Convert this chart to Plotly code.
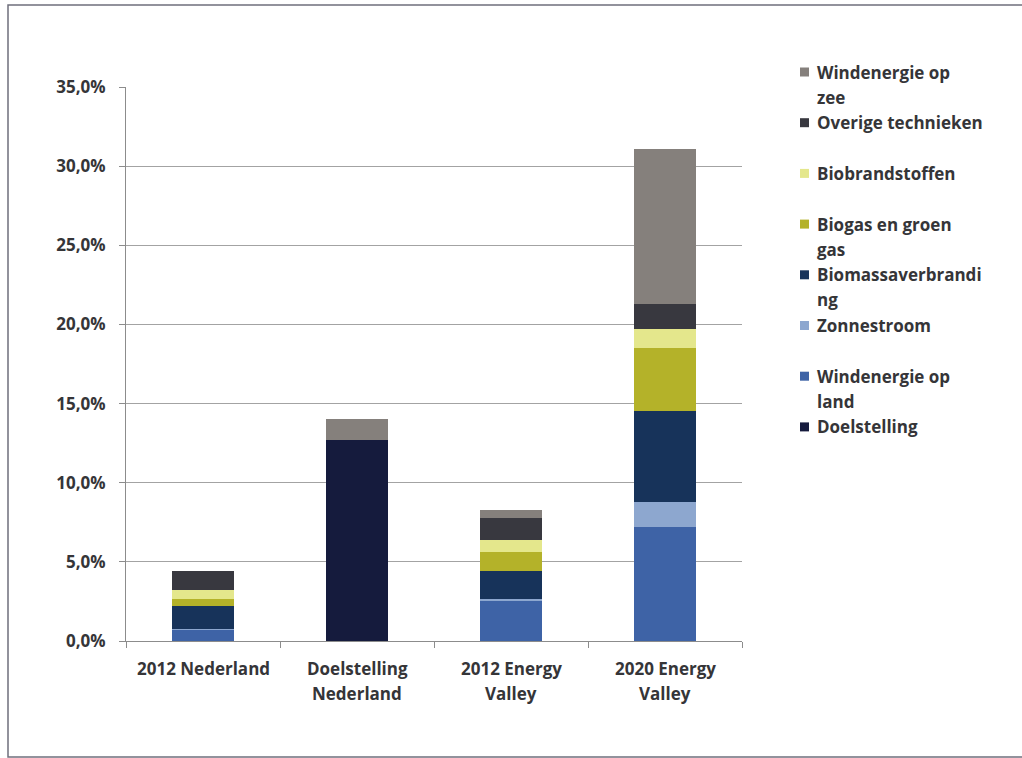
import plotly.graph_objects as go

# Categories on the x axis
categories = ["2012 Nederland", "Doelstelling Nederland", "2012 Energy Valley", "2020 Energy Valley"]
category_lines = [["2012 Nederland"], ["Doelstelling", "Nederland"], ["2012 Energy", "Valley"], ["2020 Energy", "Valley"]]

# Share of renewable energy (%) per technique, stacked bottom to top
doelstelling = [0.0, 12.7, 0.0, 0.0]
wind_land = [0.7, 0.0, 2.5, 7.2]
zonnestroom = [0.05, 0.0, 0.15, 1.6]
biomassa = [1.45, 0.0, 1.8, 5.7]
biogas = [0.45, 0.0, 1.2, 4.0]
biobrandstof = [0.55, 0.0, 0.7, 1.2]
overige = [1.2, 0.0, 1.4, 1.6]
wind_zee = [0.0, 1.3, 0.55, 9.8]

y_ticks = [0, 5, 10, 15, 20, 25, 30, 35]
y_tick_labels = ["0,0%", "5,0%", "10,0%", "15,0%", "20,0%", "25,0%", "30,0%", "35,0%"]

series = [
    ("Doelstelling", doelstelling, "#151b3d"),
    ("Windenergie op land", wind_land, "#3e63a6"),
    ("Zonnestroom", zonnestroom, "#8da7cf"),
    ("Biomassaverbranding", biomassa, "#17335a"),
    ("Biogas en groen gas", biogas, "#b4b229"),
    ("Biobrandstoffen", biobrandstof, "#e4e78c"),
    ("Overige technieken", overige, "#38383f"),
    ("Windenergie op zee", wind_zee, "#85807c"),
]

# Legend text, wrapped the way it appears next to the chart (top to bottom)
legend_lines = {
    "Windenergie op zee": ["Windenergie op", "zee"],
    "Overige technieken": ["Overige technieken"],
    "Biobrandstoffen": ["Biobrandstoffen"],
    "Biogas en groen gas": ["Biogas en groen", "gas"],
    "Biomassaverbranding": ["Biomassaverbrandi", "ng"],
    "Zonnestroom": ["Zonnestroom"],
    "Windenergie op land": ["Windenergie op", "land"],
    "Doelstelling": ["Doelstelling"],
}

W, H = 1022, 758
PL, PR, PT, PB = 126, 742, 87, 641  # plot area in pixels
TEXT = "#353538"
FONT = "Open Sans"
FSIZE = 17


def px_x(px):
    return (px - PL) / (PR - PL)


def px_y(py):
    return (PB - py) / (PB - PT)


fig = go.Figure()
for name, vals, color in series:
    fig.add_trace(go.Bar(
        x=categories, y=vals, name=name, width=0.4,
        marker=dict(color=color, line=dict(width=0)),
        showlegend=False,
    ))

shapes = []
annotations = []

# Legend drawn at the right of the plot
first_line_y = 72
pitch = 50.7
line_gap = 25
for i, (name, vals, color) in enumerate(reversed(series)):
    y0 = first_line_y + i * pitch
    shapes.append(dict(
        type="rect", xref="paper", yref="paper",
        x0=px_x(800), x1=px_x(809), y0=px_y(y0 - 4.5), y1=px_y(y0 + 4.5),
        fillcolor=color, line=dict(width=0),
    ))
    for j, line in enumerate(legend_lines[name]):
        annotations.append(dict(
            xref="paper", yref="paper", x=px_x(815), y=px_y(y0 + j * line_gap),
            xanchor="left", yanchor="middle", showarrow=False, text=f"<b>{line}</b>",
            font=dict(family=FONT, size=FSIZE, color=TEXT),
        ))

# Category labels under the bars, two lines where wrapped
for cat, lines in zip(categories, category_lines):
    for j, line in enumerate(lines):
        annotations.append(dict(
            xref="x", yref="paper", x=cat, y=px_y(668 + j * line_gap),
            xanchor="center", yanchor="middle", showarrow=False, text=f"<b>{line}</b>",
            font=dict(family=FONT, size=FSIZE, color=TEXT),
        ))

# Outer chart frame
shapes.append(dict(
    type="rect", xref="paper", yref="paper",
    x0=px_x(8), x1=px_x(1030), y0=px_y(5), y1=px_y(757),
    line=dict(color="#6f6f7c", width=1.5), fillcolor="rgba(0,0,0,0)", layer="below",
))

fig.update_layout(
    width=W, height=H,
    margin=dict(l=PL, r=W - PR, t=PT, b=H - PB, pad=0),
    barmode="stack",
    bargap=0.6,
    paper_bgcolor="white",
    plot_bgcolor="white",
    showlegend=False,
    shapes=shapes,
    annotations=annotations,
    font=dict(family=FONT, size=FSIZE, color=TEXT),
)

fig.update_yaxes(
    range=[0, 35], tickvals=y_ticks, ticktext=[f"<b>{t}</b>" for t in y_tick_labels],
    showgrid=True, gridcolor="#a3a3a3", gridwidth=1,
    showline=True, linecolor="#8c8c8c", linewidth=1,
    ticks="outside", ticklen=6, tickcolor="#8c8c8c",
    tickfont=dict(family=FONT, size=FSIZE, color=TEXT),
    zeroline=False, ticklabelstandoff=10,
)
fig.update_xaxes(
    tickvals=categories, showticklabels=False,
    showline=True, linecolor="#8c8c8c", linewidth=1,
    ticks="outside", ticklen=6, tickcolor="#8c8c8c", tickson="boundaries",
    showgrid=False,
)

fig.write_html("out.html")
